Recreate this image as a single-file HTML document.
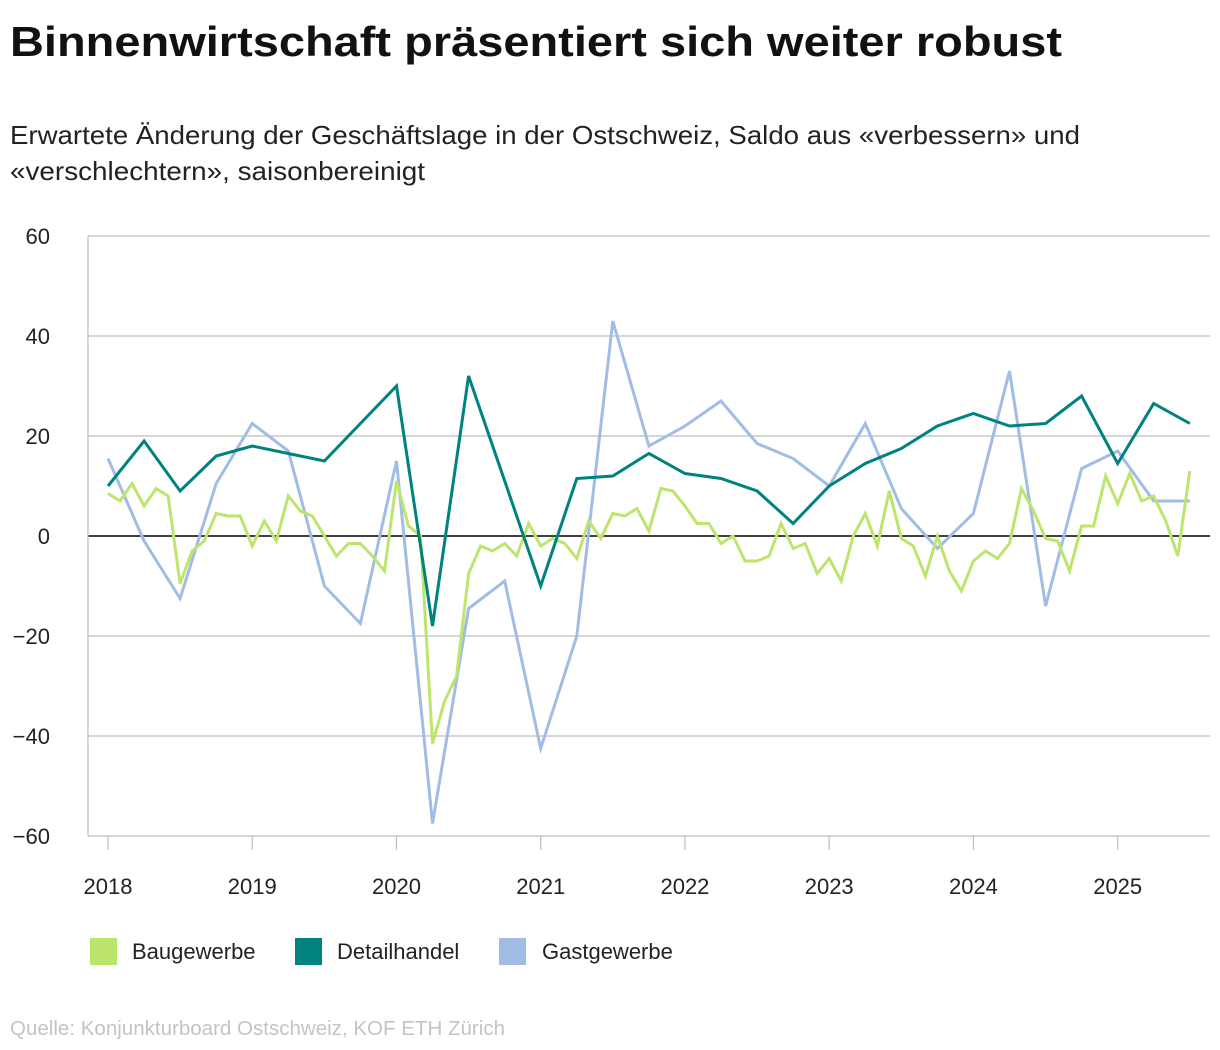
<!DOCTYPE html>
<html><head><meta charset="utf-8">
<style>
html,body{margin:0;padding:0;background:#fff;}
svg{display:block;font-family:"Liberation Sans",sans-serif;}
</style></head>
<body>
<svg id="chart" width="1220" height="1050" viewBox="0 0 1220 1050">
<text x="10" y="56" font-size="42" font-weight="bold" fill="#111" textLength="1052" lengthAdjust="spacingAndGlyphs">Binnenwirtschaft präsentiert sich weiter robust</text>
<text x="10" y="144" font-size="26" fill="#222" textLength="1070" lengthAdjust="spacingAndGlyphs">Erwartete Änderung der Geschäftslage in der Ostschweiz, Saldo aus «verbessern» und</text>
<text x="10" y="180" font-size="26" fill="#222" textLength="415" lengthAdjust="spacingAndGlyphs">«verschlechtern», saisonbereinigt</text>
<g id="grid"></g><g id="xaxis"></g><g id="series"></g>
<g>
<rect x="90" y="938" width="27" height="27" fill="#bde56e"/>
<text x="132" y="959" font-size="22" fill="#222">Baugewerbe</text>
<rect x="295" y="938" width="27" height="27" fill="#00827f"/>
<text x="337" y="959" font-size="22" fill="#222">Detailhandel</text>
<rect x="499" y="938" width="27" height="27" fill="#a1bde5"/>
<text x="542" y="959" font-size="22" fill="#222">Gastgewerbe</text>
</g>
<text x="10" y="1035" font-size="20" fill="#c4c4c4" textLength="495" lengthAdjust="spacingAndGlyphs">Quelle: Konjunkturboard Ostschweiz, KOF ETH Zürich</text>
</svg>
<script>
const yTicks = [60,40,20,0,-20,-40,-60];
const yearLabels = ["2018","2019","2020","2021","2022","2023","2024","2025"];
const bau = [8.5,7,10.5,6,9.5,8,-9.5,-3,-1,4.5,4,4,
 -2,3,-1,8,5,4,0,-4,-1.5,-1.5,-4,-7,
 11,2,0,-41.5,-33,-28,-7.5,-2,-3,-1.5,-4,2.5,
 -2,-0.5,-1.5,-4.5,3,-0.5,4.5,4,5.5,1,9.5,9,
 6,2.5,2.5,-1.5,0,-5,-5,-4,2.5,-2.5,-1.5,-7.5,
 -4.5,-9,0,4.5,-2,9,-0.5,-2,-8,0,-7,-11,
 -5,-3,-4.5,-1.5,9.5,5,-0.5,-1,-7,2,2,12,
 6.5,12.5,7,8,3,-4,13];
const detail = [10,19,9,16,18,16.5,15,22.5,30,-18,32,11,-10,11.5,12,16.5,12.5,11.5,9,2.5,10,14.5,17.5,22,24.5,22,22.5,28,14.5,26.5,22.5];
const gast = [15.5,-1,-12.5,10.5,22.5,17,-10,-17.5,15,-57.5,-14.5,-9,-42.5,-20,43,18,22,27,18.5,15.5,10,22.5,5.5,-2.5,4.5,33,-14,13.5,17,7,7];

const NS="http://www.w3.org/2000/svg";
const x0=108, monthW=12.02, left=88, right=1210;
const xM = m => x0 + m*monthW;
const yV = v => 536 - v*5;
function mk(tag, attrs, parent){const e=document.createElementNS(NS,tag);for(const k in attrs)e.setAttribute(k,attrs[k]);parent.appendChild(e);return e;}
const grid=document.getElementById('grid');
yTicks.forEach(v=>{
  const l=mk('line',{x1:left,x2:right,y1:yV(v),y2:yV(v),stroke:v===0?'#000':'#bdbdbd','stroke-width':v===0?1.6:1.2},grid);
  
  
  const t=mk('text',{x:50,y:yV(v)+8,'font-size':22,fill:'#222','text-anchor':'end'},grid);
  t.textContent = v<0 ? '\u2212'+Math.abs(v) : String(v);
  
  
});
const ax=document.getElementById('xaxis');
const yl=mk('line',{x1:left,x2:left,y1:236,y2:836,stroke:'#bdbdbd','stroke-width':1.2},ax);


yearLabels.forEach((lab,i)=>{
  const x=xM(i*12);
  const tk=mk('line',{x1:x,x2:x,y1:836,y2:850,stroke:'#bdbdbd','stroke-width':1.2},ax);
  
  
  const t=mk('text',{x:x,y:894,'font-size':22,fill:'#222','text-anchor':'middle'},ax);
  t.textContent=lab;
  
  
});
const sg=document.getElementById('series');
function line(vals, step, color, name){
  const pts=vals.map((v,i)=>xM(i*step).toFixed(1)+','+yV(v).toFixed(1)).join(' ');
  const p=mk('polyline',{points:pts,fill:'none',stroke:color,'stroke-width':3,'stroke-linejoin':'miter'},sg);
  
  
}
line(gast,3,'#a1bde5','series-gastgewerbe');
line(bau,1,'#bde56e','series-baugewerbe');
line(detail,3,'#00827f','series-detailhandel');
</script>
</body></html>
